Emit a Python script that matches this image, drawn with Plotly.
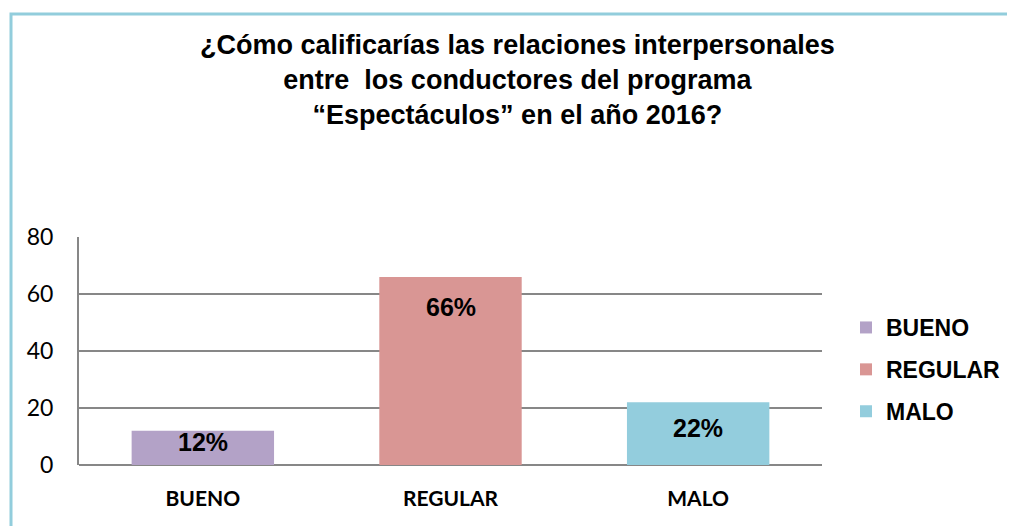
import plotly.graph_objects as go

categories = ["BUENO", "REGULAR", "MALO"]
values = [12, 66, 22]
labels = ["12%", "66%", "22%"]
colors = ["#B3A2C7", "#D99694", "#93CDDD"]
y_ticks = [0, 20, 40, 60, 80]
title_lines = [
    "¿Cómo calificarías las relaciones interpersonales",
    "entre  los conductores del programa",
    "“Espectáculos” en el año 2016?",
]

# page body adds an 8px margin, so work in figure pixels
W, H = 1015, 526
L, R, T, B = 71, 201, 229, 69
pw, ph = W - L - R, H - T - B
Y_MAX = 80


def px_x(p):
    return (p - L) / pw


def px_y(p):
    return (H - B - p) / ph


fig = go.Figure()
for cat, val, col in zip(categories, values, colors):
    fig.add_trace(go.Bar(
        x=[cat], y=[val], name=cat, legendgroup=cat,
        marker=dict(color=col, line=dict(width=0)),
        width=0.575,
    ))

# percentage labels inside the bars, near the top
for cat, val, lab in zip(categories, values, labels):
    bar_px = val / Y_MAX * ph
    shift = min(30, bar_px / 2 - 6)
    fig.add_annotation(
        x=cat, y=val, text=lab, showarrow=False,
        yanchor="middle", yshift=-shift,
        font=dict(family="Liberation Sans", size=25, color="black", weight="bold"),
    )

fig.add_annotation(
    x=px_x(509), y=px_y(72), xref="paper", yref="paper",
    text="<br>".join(title_lines), showarrow=False,
    xanchor="center", yanchor="middle", align="center",
    font=dict(family="Liberation Sans", size=27, color="black", weight="bold"),
)

fig.update_layout(
    width=W, height=H,
    margin=dict(l=L, r=R, t=T, b=B),
    plot_bgcolor="white", paper_bgcolor="white",
    barmode="overlay",
    legend=dict(
        x=px_x(838), y=px_y(298), xanchor="left", yanchor="top",
        font=dict(family="Liberation Sans", size=23, color="black", weight="bold"),
        tracegroupgap=9, itemwidth=30,
    ),
    xaxis=dict(
        showgrid=False, showline=False, ticks="",
        tickfont=dict(family="Lato", size=21, color="black", weight="bold"),
        ticklabelstandoff=19,
    ),
    yaxis=dict(
        range=[0, Y_MAX], tickvals=y_ticks,
        showgrid=True, gridcolor="#878787", gridwidth=2,
        showline=True, linecolor="#878787", linewidth=2,
        zeroline=True, zerolinecolor="#878787", zerolinewidth=2,
        tickfont=dict(family="Lato", size=23, color="black"),
        ticklabelstandoff=19,
    ),
    shapes=[dict(
        type="rect", xref="paper", yref="paper",
        x0=px_x(3), y0=px_y(6), x1=px_x(1030), y1=px_y(540),
        line=dict(color="#92CDDC", width=3), layer="below",
    )],
)

fig.write_html("out.html")
